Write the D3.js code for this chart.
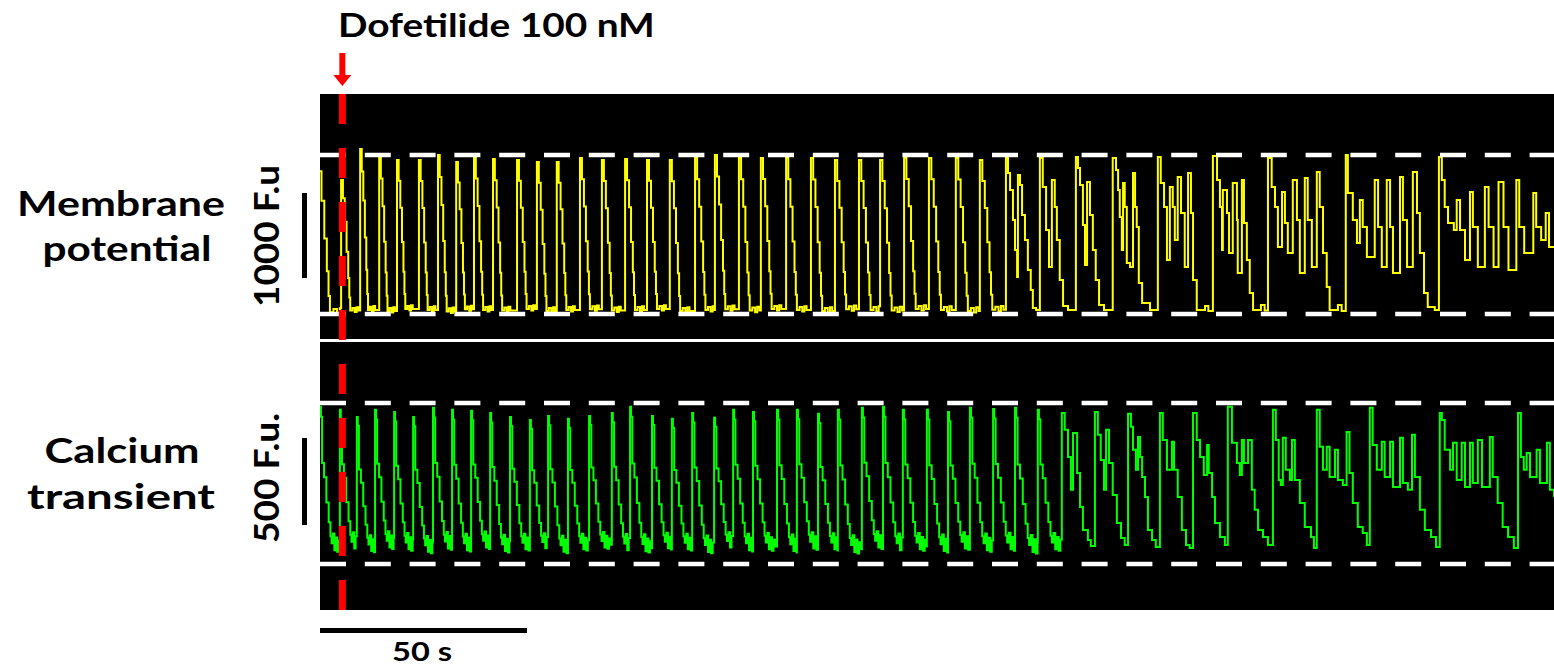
<!DOCTYPE html>
<html>
<head>
<meta charset="utf-8">
<script src="https://cdn.jsdelivr.net/npm/d3@7"></script>
<style>
  body { margin: 0; background: #fff; }
  text { font-family: Lato, "Open Sans", sans-serif; font-weight: bold; fill: #000; }
</style>
</head>
<body>
<div id="chart"></div>
<script>
// Canvas size
let svgWidth = 1554;
let svgHeight = 670;

// ---- data ----
// membrane potential: regular beats (onset s, peak F.u., duration s, resting F.u.)
const vmOnset = [-1.0, 5.1, 9.7, 14.3, 18.6, 23.9, 28.5, 32.9, 37.2, 41.8, 47.6, 52.4, 57.2, 62.8, 68.1, 73.7,
  79.0, 84.5, 90.6, 95.4, 101.2, 106.5, 112.6, 118.6, 124.4, 130.2, 135.3, 141.1, 147.1, 153.6, 159.4];
const vmPeak = [1950, 1576, 1940, 1846, 1811, 1811, 1870, 1788, 1846, 1823, 1811, 1788, 1788, 1835, 1811, 1823,
  1811, 1811, 1835, 1870, 1835, 1835, 1835, 1835, 1811, 1811, 1811, 1835, 1835, 1835, 1811];
const vmApd = [3.4, 2.2, 1.9, 2.0, 2.0, 2.1, 2.1, 2.1, 2.2, 2.2, 2.3, 2.3, 2.3, 2.4, 2.4, 2.4,
  2.4, 2.5, 2.5, 2.5, 2.6, 2.6, 2.6, 2.7, 2.7, 2.8, 2.8, 2.8, 2.9, 2.9, 3.0];
const vmRest = [20, 40, 47, 35, 60, 47, 30, 55, 47, 40, 60, 35, 47, 55, 40, 47,
  60, 35, 47, 55, 40, 60, 47, 35, 55, 47, 40, 60, 47, 35, 50];
// shape of one action potential: [fraction of duration, fraction of amplitude]
const vmShape = [[0, 1], [0.2, 0.86], [0.4, 0.68], [0.6, 0.45], [0.78, 0.25], [0.9, 0.1], [1, 0],
  [1.25, 0.02], [1.5, -0.01], [1.7, 0.025], [1.9, 0]];
// membrane potential after EADs start: [s, F.u.]
const vmTail = [[165.7,1835],[166.2,1658],[166.7,1458],[167.4,1105],[167.9,753],[168.4,435],[168.6,1635],[169.1,1517],[169.6,1164],[170.3,870],[171.0,517],[171.7,282],[172.2,71],[173.0,47],
  [173.9,1835],[174.6,1494],[175.4,988],[176.1,553],[176.8,1576],[177.5,1258],[178.0,870],[178.7,400],[179.5,94],[180.7,47],
  [182.6,1846],[183.1,1717],[183.6,1517],[184.3,1047],[184.8,576],[185.3,1552],[186.0,1164],[186.7,753],[187.4,400],[188.2,106],[189.4,47],
  [191.5,1835],[192.3,1693],[192.8,1458],[193.2,1141],[193.7,753],[194.0,1541],[194.4,1258],[194.9,600],[195.7,553],[196.4,1658],[196.9,1258],[197.3,1023],[197.8,365],[198.6,129],[200.5,47],
  [202.4,1846],[203.1,1541],[203.9,1258],[204.6,635],[205.3,1494],[206.0,1258],[206.5,870],[207.2,1611],[208.0,1188],[208.9,553],[209.7,1658],[210.4,1188],[210.9,400],[211.8,47],[213.8,94],[214.6,35],
  [215.7,1858],[216.7,1576],[217.4,1258],[217.9,753],[218.1,1458],[219.1,1188],[219.6,717],[220.5,1541],[221.5,1105],[221.7,482],[222.7,1576],[223.2,1070],[223.9,635],[224.6,247],[225.4,47],[227.3,106],[228.2,40],
  [229.0,1835],[229.9,1494],[230.7,1258],[231.4,788],[232.4,1435],[233.1,1070],[233.8,717],[235.0,1576],[236.0,1105],[236.7,482],[237.9,1599],[238.6,1105],[239.6,553],[240.8,1670],[241.5,1258],[242.3,717],[243.2,318],[243.9,47],[245.9,106],[246.8,35],
  [247.8,1870],[248.3,1423],[249.5,1105],[250.5,835],[251.2,1341],[251.9,1023],[252.9,670],[254.8,1576],[255.6,1023],[256.5,553],[257.7,1576],[258.5,1023],[259.2,482],[260.9,1611],[261.6,1105],[262.6,553],[264.0,1670],[265.0,1188],[265.7,717],[266.7,247],[267.6,82],[269.3,47],
  [270.3,1846],[271.0,1576],[271.7,1258],[272.5,1070],[273.9,988],[274.6,1341],[275.4,988],[276.6,635],[277.8,1435],[278.5,1023],[279.7,553],[281.4,1494],[282.3,1023],[283.5,553],[284.7,1552],[285.9,1023],[287.1,517],[289.0,1576],[289.7,1023],[290.9,717],[293.1,1423],[293.8,1023],[295.0,870],[296.1,1188],[296.9,788],[298.1,788]];

// calcium transient: regular beats
const caOnset = [0.0, 4.8, 8.9, 13.3, 17.9, 22.5, 27.3, 31.9, 36.5, 41.1, 45.9, 50.7, 55.1, 59.9, 65.0, 70.5, 74.9, 80.2,
  85.0, 89.9, 95.2, 99.8, 104.6, 110.4, 115.2, 120.3, 125.1, 130.9, 136.0, 140.8, 146.6, 151.7, 157.0, 162.6, 167.9, 173.4];
const caPeak = [903, 886, 845, 886, 874, 845, 897, 886, 880, 868, 845, 828, 851, 834, 851, 868, 903, 851,
  834, 868, 840, 886, 874, 886, 886, 863, 886, 897, 903, 886, 886, 874, 897, 891, 897, 886];
const caDecay = [2.8, 2.8, 2.8, 2.8, 2.8, 2.9, 2.9, 2.9, 2.9, 2.9, 3.0, 3.0, 3.0, 3.0, 3.0, 3.0, 3.0, 3.1,
  3.1, 3.1, 3.1, 3.1, 3.1, 3.2, 3.2, 3.2, 3.2, 3.2, 3.3, 3.3, 3.3, 3.3, 3.3, 3.4, 3.4, 3.4];
const caRest = [95, 105, 90, 110, 100, 85, 105, 95, 110, 90, 100, 105, 85, 100, 110, 95, 90, 105,
  100, 85, 110, 95, 100, 90, 105, 100, 85, 110, 95, 100, 90, 105, 95, 100, 85, 100];
const caShape = [[0, 1], [0.08, 0.93], [0.18, 0.6], [0.35, 0.5], [0.55, 0.32], [0.75, 0.18], [0.9, 0.08], [1.0, 0.03],
  [1.12, 0.1], [1.24, -0.02], [1.36, 0.07], [1.48, -0.03], [1.6, 0.05], [1.72, 0.0]];
const caTail = [[179.2,868],[179.9,771],[180.7,615],[181.4,426],[181.9,753],[182.9,523],[183.6,328],[184.3,196],[185.5,138],[186.2,104],
  [187.2,874],[187.9,742],[188.6,598],[189.4,426],[189.9,771],[190.6,581],[191.5,397],[192.5,236],[193.5,150],[194.4,109],
  [195.2,863],[195.9,788],[196.4,656],[197.1,541],[197.6,730],[198.1,615],[198.6,500],[199.3,385],[200.0,196],[201.0,138],[201.9,98],
  [202.9,868],[203.6,713],[204.6,541],[205.8,702],[206.3,541],[207.2,385],[208.2,196],[209.2,109],[210.1,92],
  [210.9,868],[211.8,713],[212.6,615],[213.5,512],[214.3,684],[214.7,523],[215.5,385],[216.2,236],[217.4,155],[218.6,109],
  [219.3,903],[220.3,696],[221.5,581],[222.2,512],[222.7,713],[223.2,581],[224.2,713],[225.1,426],[225.8,311],[226.6,196],[227.8,155],[229.0,109],
  [230.2,886],[230.9,713],[231.6,483],[232.1,454],[232.6,725],[233.3,541],[234.3,483],[234.8,713],[235.5,483],[236.7,351],[237.9,213],[239.4,155],[240.1,92],
  [240.8,886],[241.5,673],[242.3,541],[243.2,673],[243.9,500],[245.2,656],[245.9,483],[247.1,454],[248.0,759],[248.7,523],[249.5,351],[250.7,213],[251.9,178],[252.9,109],
  [253.6,897],[254.3,684],[255.3,541],[256.5,702],[257.2,500],[258.5,702],[259.2,443],[260.9,725],[261.6,466],[262.8,426],[263.8,742],[264.5,500],[265.7,311],[266.9,196],[268.4,155],[269.6,98],
  [270.5,868],[271.0,828],[271.7,656],[273.0,541],[273.7,696],[274.6,483],[275.8,696],[276.6,443],[277.8,696],[278.5,466],[279.7,713],[280.7,443],[282.6,730],[283.3,500],[284.5,351],[285.7,213],[287.0,155],[288.4,92],
  [289.4,868],[290.1,615],[290.8,541],[291.5,638],[292.3,500],[293.9,656],[294.7,466],[296.4,696],[297.1,426],[298.1,385]];

// annotations
const drugTime = 5.4;          // s, dofetilide added
const drugLabel = "Dofetilide 100 nM";
const vmGuides = [0, 1870];    // dashed reference levels
const caGuides = [0, 925];
const vmBar = [423, 1423];     // 1000 F.u.
const caBar = [224, 724];      // 500 F.u.
const timeBar = [0, 50];       // 50 s

// ---- layout ----
let panelLeft = 320, panelRight = 1554;
let vmPanel = { top: 94, bottom: 339 };
let caPanel = { top: 342, bottom: 610 };

let svg = d3.select("#chart").append("svg")
  .attr("width", svgWidth)
  .attr("height", svgHeight);

// scales
let x = d3.scaleLinear().domain([0, 298.1]).range([panelLeft, panelRight]);
let yVm = d3.scaleLinear().domain([0, 1870]).range([314, 155]);
let yCa = d3.scaleLinear().domain([0, 925]).range([564, 403]);

// build a trace from regular beats plus the explicit tail
function buildTrace(onset, peak, dur, rest, shape, tail) {
  let pts = [];
  onset.forEach((t0, i) => {
    let next = i < onset.length - 1 ? onset[i + 1] : tail[0][0];
    shape.forEach(([f, a]) => {
      let t = t0 + f * dur[i];
      if (t < next - 0.05) pts.push([t, rest[i] + a * (peak[i] - rest[i])]);
    });
  });
  return pts.concat(tail);
}
let vmData = buildTrace(vmOnset, vmPeak, vmApd, vmRest, vmShape, vmTail);
let caData = buildTrace(caOnset, caPeak, caDecay, caRest, caShape, caTail);

// panels
let defs = svg.append("defs");
[["clipVm", vmPanel], ["clipCa", caPanel]].forEach(([id, p]) => {
  defs.append("clipPath").attr("id", id)
    .append("rect")
    .attr("x", panelLeft).attr("y", p.top)
    .attr("width", panelRight - panelLeft).attr("height", p.bottom - p.top);
});

svg.append("rect")
  .attr("x", panelLeft).attr("y", vmPanel.top)
  .attr("width", panelRight - panelLeft).attr("height", caPanel.bottom - vmPanel.top)
  .attr("fill", "#000");
// white separator
svg.append("rect")
  .attr("x", panelLeft).attr("y", vmPanel.bottom)
  .attr("width", panelRight - panelLeft).attr("height", caPanel.top - vmPanel.bottom)
  .attr("fill", "#fff");

// traces
let lineVm = d3.line().x(d => x(d[0])).y(d => yVm(d[1])).curve(d3.curveStepAfter);
let lineCa = d3.line().x(d => x(d[0])).y(d => yCa(d[1])).curve(d3.curveStepAfter);

svg.append("path")
  .datum(vmData)
  .attr("clip-path", "url(#clipVm)")
  .attr("d", lineVm)
  .attr("fill", "none")
  .attr("stroke", "#ffff00")
  .attr("stroke-width", 2);

svg.append("path")
  .datum(caData)
  .attr("clip-path", "url(#clipCa)")
  .attr("d", lineCa)
  .attr("fill", "none")
  .attr("stroke", "#00ff00")
  .attr("stroke-width", 2);

// dashed guide lines
function guides(levels, yScale) {
  svg.selectAll(null)
    .data(levels)
    .enter()
    .append("line")
    .attr("x1", panelLeft).attr("x2", panelRight)
    .attr("y1", d => yScale(d)).attr("y2", d => yScale(d))
    .attr("stroke", "#fff")
    .attr("stroke-width", 4.5)
    .attr("stroke-dasharray", "26 18.8");
}
guides(vmGuides, yVm);
guides(caGuides, yCa);

// red drug line and arrow
svg.append("line")
  .attr("x1", x(drugTime)).attr("x2", x(drugTime))
  .attr("y1", vmPanel.top).attr("y2", caPanel.bottom)
  .attr("stroke", "#ff0000")
  .attr("stroke-width", 7)
  .attr("stroke-dasharray", "30 24");

let ax = x(drugTime);
svg.append("rect")
  .attr("x", ax - 3).attr("y", 53).attr("width", 6).attr("height", 23)
  .attr("fill", "#ff0000");
svg.append("path")
  .attr("d", `M${ax - 9},75 L${ax + 9},75 L${ax},86 Z`)
  .attr("fill", "#ff0000");

// scale bars
svg.append("rect")
  .attr("x", 302).attr("y", yVm(vmBar[1]))
  .attr("width", 5).attr("height", yVm(vmBar[0]) - yVm(vmBar[1]))
  .attr("fill", "#000");
svg.append("rect")
  .attr("x", 302).attr("y", yCa(caBar[1]))
  .attr("width", 5).attr("height", yCa(caBar[0]) - yCa(caBar[1]))
  .attr("fill", "#000");
svg.append("rect")
  .attr("x", x(timeBar[0])).attr("y", 628)
  .attr("width", x(timeBar[1]) - x(timeBar[0])).attr("height", 5)
  .attr("fill", "#000");

// text: font size gives the glyph height, a horizontal stretch gives the measured width
function label(str, px, py, size, width, anchor, rot) {
  let t = svg.append("text")
    .attr("text-anchor", anchor)
    .attr("font-size", size)
    .text(str);
  let sx = width / t.node().getComputedTextLength();
  t.attr("transform", `translate(${px},${py})${rot ? " rotate(" + rot + ")" : ""} scale(${sx},1)`);
  return t;
}

label(drugLabel, 338, 37, 33, 317, "start");

label("Membrane", 121, 216, 35, 208, "middle");
label("potential", 127, 261, 35, 169, "middle");
label("Calcium", 122, 463, 35, 155, "middle");
label("transient", 121, 509, 35, 188, "middle");

label("1000 F.u", 279, 236, 34, 142, "middle", -90);
label("500 F.u.", 279, 478, 34, 130, "middle", -90);

label("50 s", 422, 661, 27, 60, "middle");
</script>
</body>
</html>
